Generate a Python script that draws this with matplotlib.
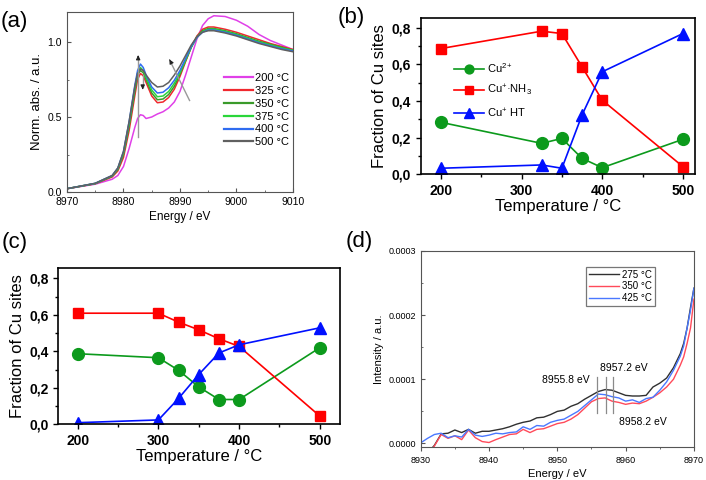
import numpy as np
import matplotlib
matplotlib.use('Agg')
import matplotlib.pyplot as plt
from matplotlib.ticker import MultipleLocator, FuncFormatter

plt.rcParams['font.family'] = ['Liberation Sans', 'DejaVu Sans']
plt.rcParams['mathtext.fontset'] = 'custom'
plt.rcParams['mathtext.rm'] = 'Liberation Sans'
plt.rcParams['mathtext.it'] = 'Liberation Sans:italic'
plt.rcParams['mathtext.bf'] = 'Liberation Sans:bold'

# ---- (a) XANES spectra
energy_a = [8970, 8975, 8978, 8979, 8980, 8981, 8982, 8982.5, 8983, 8983.5, 8984, 8985, 8986, 8987, 8988,
            8989, 8990, 8991, 8992, 8993, 8994, 8995, 8996, 8998, 9000, 9002, 9004, 9006, 9008, 9010]
abs_200 = [0.022, 0.052, 0.085, 0.11, 0.17, 0.29, 0.43, 0.49, 0.515, 0.51, 0.49, 0.50, 0.52, 0.535, 0.56,
           0.60, 0.67, 0.78, 0.90, 1.02, 1.11, 1.155, 1.175, 1.17, 1.145, 1.105, 1.05, 1.01, 0.98, 0.95]
abs_325 = [0.022, 0.055, 0.10, 0.14, 0.23, 0.41, 0.64, 0.75, 0.79, 0.775, 0.73, 0.64, 0.595, 0.60, 0.63,
           0.685, 0.77, 0.87, 0.965, 1.04, 1.085, 1.10, 1.10, 1.085, 1.065, 1.04, 1.015, 0.99, 0.97, 0.95]
abs_350 = [0.022, 0.056, 0.105, 0.15, 0.25, 0.44, 0.67, 0.78, 0.81, 0.795, 0.75, 0.66, 0.615, 0.62, 0.65,
           0.705, 0.785, 0.875, 0.965, 1.035, 1.075, 1.09, 1.09, 1.075, 1.055, 1.03, 1.005, 0.985, 0.965, 0.945]
abs_375 = [0.022, 0.057, 0.108, 0.155, 0.26, 0.455, 0.69, 0.795, 0.83, 0.81, 0.765, 0.68, 0.635, 0.64, 0.67,
           0.725, 0.795, 0.88, 0.965, 1.03, 1.07, 1.085, 1.085, 1.07, 1.05, 1.025, 1.0, 0.98, 0.96, 0.945]
abs_400 = [0.022, 0.058, 0.11, 0.16, 0.27, 0.47, 0.71, 0.81, 0.853, 0.83, 0.78, 0.70, 0.66, 0.665, 0.695,
           0.745, 0.81, 0.89, 0.97, 1.03, 1.065, 1.08, 1.08, 1.065, 1.045, 1.02, 0.995, 0.975, 0.955, 0.94]
abs_500 = [0.022, 0.058, 0.11, 0.16, 0.27, 0.47, 0.70, 0.79, 0.82, 0.81, 0.78, 0.73, 0.70, 0.705, 0.73,
           0.78, 0.84, 0.91, 0.98, 1.035, 1.065, 1.075, 1.075, 1.06, 1.04, 1.015, 0.99, 0.97, 0.95, 0.935]
labels_a = ['200 °C', '325 °C', '350 °C', '375 °C', '400 °C', '500 °C']
colors_a = ['#e040e8', '#f0282e', '#3a9a2a', '#2ad63a', '#2f6cf0', '#606060']

# ---- (b) fractions, in situ
temp_b = [200, 325, 350, 375, 400, 500]
cu2_b = [0.284, 0.169, 0.196, 0.087, 0.036, 0.191]
cunh3_b = [0.687, 0.782, 0.769, 0.587, 0.405, 0.042]
cuht_b = [0.033, 0.051, 0.033, 0.324, 0.560, 0.769]

# ---- (c) fractions, second series
temp_c = [200, 300, 325, 350, 375, 400, 500]
cu2_c = [0.387, 0.365, 0.296, 0.205, 0.136, 0.136, 0.420]
cunh3_c = [0.609, 0.609, 0.560, 0.518, 0.469, 0.427, 0.045]
cuht_c = [0.009, 0.024, 0.142, 0.273, 0.391, 0.436, 0.529]

# ---- (d) pre-edge spectra (intensity in 1e-4 a.u.)
energy_d = [8930, 8931, 8932, 8933, 8934, 8935, 8936, 8937, 8938, 8939, 8940, 8941, 8942, 8943, 8944,
            8945, 8946, 8947, 8948, 8949, 8950, 8951, 8952, 8953, 8954, 8955, 8956, 8957, 8958, 8959,
            8960, 8961, 8962, 8963, 8964, 8965, 8966, 8967, 8968, 8968.5, 8969, 8969.5, 8970]
int_275 = [-0.3, -0.15, -0.03, 0.15, 0.16, 0.21, 0.17, 0.22, 0.16, 0.19, 0.19, 0.21, 0.23, 0.26, 0.30,
           0.33, 0.35, 0.40, 0.41, 0.45, 0.50, 0.52, 0.58, 0.62, 0.69, 0.75, 0.81, 0.84, 0.83, 0.79,
           0.75, 0.74, 0.74, 0.75, 0.88, 0.94, 1.02, 1.18, 1.40, 1.56, 1.80, 2.12, 2.42]
int_350 = [-0.3, -0.2, -0.04, 0.14, 0.08, 0.12, 0.06, 0.21, 0.09, 0.03, 0.015, 0.06, 0.10, 0.14, 0.15,
           0.22, 0.17, 0.22, 0.23, 0.27, 0.31, 0.33, 0.38, 0.45, 0.55, 0.65, 0.70, 0.71, 0.66, 0.64,
           0.61, 0.63, 0.62, 0.66, 0.72, 0.79, 0.88, 1.00, 1.22, 1.35, 1.56, 1.80, 2.25]
int_425 = [0.01, 0.08, 0.14, 0.16, 0.09, 0.12, 0.10, 0.22, 0.13, 0.11, 0.13, 0.16, 0.15, 0.17, 0.18,
           0.26, 0.22, 0.28, 0.27, 0.33, 0.36, 0.38, 0.44, 0.50, 0.59, 0.68, 0.77, 0.76, 0.73, 0.71,
           0.66, 0.68, 0.64, 0.70, 0.72, 0.83, 0.96, 1.14, 1.36, 1.52, 1.80, 2.08, 2.42]
labels_d = ['275 °C', '350 °C', '425 °C']
colors_d = ['#303030', '#ff4a5a', '#4a78ff']
peaks_d = [8955.8, 8957.2, 8958.2]

fig = plt.figure(figsize=(7.06, 4.8), dpi=100)

# ================= (a)
ax = fig.add_axes([0.0949, 0.60, 0.320, 0.375])
for vals, lab, col in zip([abs_200, abs_325, abs_350, abs_375, abs_400, abs_500], labels_a, colors_a):
    ax.plot(energy_a, vals, color=col, lw=1.1, label=lab)
ax.set_xlim(8970, 9010)
ax.set_ylim(0, 1.2)
ax.xaxis.set_major_locator(MultipleLocator(10))
ax.xaxis.set_minor_locator(MultipleLocator(5))
ax.yaxis.set_major_locator(MultipleLocator(0.5))
ax.yaxis.set_minor_locator(MultipleLocator(0.25))
ax.yaxis.set_major_formatter(FuncFormatter(lambda v, p: f'{v:.1f}'))
ax.tick_params(which='both', direction='in', labelsize=7.5, color='#555555')
ax.tick_params(which='major', length=3)
ax.tick_params(which='minor', length=1.5)
for s in ax.spines.values():
    s.set_color('#555555')
    s.set_linewidth(0.8)
ax.set_xlabel('Energy / eV', fontsize=8.5, labelpad=3)
ax.set_ylabel('Norm. abs. / a.u.', fontsize=9.5, labelpad=3)
# arrows
ax.plot([8982.6, 8982.6], [0.37, 0.90], color='#999999', lw=1)
ax.annotate('', xy=(8982.6, 0.93), xytext=(8982.6, 0.88),
            arrowprops=dict(arrowstyle='-|>', color='#222222', lw=0.8, mutation_scale=6))
ax.plot([8983.4, 8983.4], [0.78, 0.70], color='#999999', lw=1)
ax.annotate('', xy=(8983.4, 0.665), xytext=(8983.4, 0.71),
            arrowprops=dict(arrowstyle='-|>', color='#222222', lw=0.8, mutation_scale=6))
ax.plot([8991.7, 8988.3], [0.61, 0.87], color='#999999', lw=1)
ax.annotate('', xy=(8987.9, 0.90), xytext=(8988.4, 0.865),
            arrowprops=dict(arrowstyle='-|>', color='#222222', lw=0.8, mutation_scale=6))
leg = ax.legend(loc='upper left', bbox_to_anchor=(0.67, 0.69), frameon=False, fontsize=8,
                handlelength=2.6, handletextpad=0.2, labelspacing=0.25, borderpad=0)
for h in leg.get_lines():
    h.set_linewidth(1.6)


def frac_axes(rect, temps, cu2, cunh3, cuht, with_legend):
    a = fig.add_axes(rect)
    a.plot(temps, cu2, color='#0c9a1c', marker='o', ms=8.5, lw=1.2, label=r'Cu$^{2+}$')
    a.plot(temps, cunh3, color='#ff0000', marker='s', ms=7.5, lw=1.2, label=r'Cu$^{+}$·NH$_3$')
    a.plot(temps, cuht, color='#0010ff', marker='^', ms=9, lw=1.2, label=r'Cu$^{+}$ HT')
    a.set_ylim(0, 0.855)
    a.xaxis.set_major_locator(MultipleLocator(100))
    a.xaxis.set_minor_locator(MultipleLocator(50))
    a.yaxis.set_major_locator(MultipleLocator(0.2))
    a.yaxis.set_minor_locator(MultipleLocator(0.1))
    a.yaxis.set_major_formatter(FuncFormatter(lambda v, p: f'{v:.1f}'.replace('.', ',')))
    a.tick_params(which='both', direction='out', labelsize=10, width=1.0)
    a.tick_params(which='major', length=3.5)
    a.tick_params(which='minor', length=2)
    for s in a.spines.values():
        s.set_linewidth(1.2)
    a.set_xlabel('Temperature / °C', fontsize=12, labelpad=1)
    a.set_ylabel('Fraction of Cu sites', fontsize=12, labelpad=3)
    if with_legend:
        a.legend(loc='upper left', bbox_to_anchor=(0.1, 0.76), frameon=False, fontsize=8,
                 handlelength=2.7, handletextpad=0.3, labelspacing=0.75, markerscale=0.75, borderpad=0)
    for t in a.get_xticklabels() + a.get_yticklabels():
        t.set_fontweight('bold')
    return a


# ================= (b)
axb = frac_axes([0.5959, 0.6369, 0.3885, 0.326], temp_b, cu2_b, cunh3_b, cuht_b, True)
axb.set_xlim(175, 515)

# ================= (c)
axc = frac_axes([0.0826, 0.116, 0.399, 0.325], temp_c, cu2_c, cunh3_c, cuht_c, False)
axc.set_xlim(176, 525)

# ================= (d)
axd = fig.add_axes([0.5959, 0.0694, 0.387, 0.4077])
for vals, lab, col in zip([int_275, int_350, int_425], labels_d, colors_d):
    axd.plot(energy_d, np.array(vals) * 1e-4, color=col, lw=1.0, label=lab)
for p in peaks_d:
    axd.plot([p, p], [0.48e-4, 1.03e-4], color='#8a8a8a', lw=0.9)
axd.text(8954.7, 0.99e-4, '8955.8 eV', fontsize=7.5, ha='right', va='center')
axd.text(8956.3, 1.18e-4, '8957.2 eV', fontsize=7.5, ha='left', va='center')
axd.text(8959.0, 0.34e-4, '8958.2 eV', fontsize=7.5, ha='left', va='center')
axd.set_xlim(8930, 8970)
axd.set_ylim(-0.05e-4, 3e-4)
axd.xaxis.set_major_locator(MultipleLocator(10))
axd.xaxis.set_minor_locator(MultipleLocator(5))
axd.yaxis.set_major_locator(MultipleLocator(1e-4))
axd.yaxis.set_minor_locator(MultipleLocator(0.5e-4))
axd.yaxis.set_major_formatter(FuncFormatter(lambda v, p: f'{v:.4f}'))
axd.tick_params(axis='y', which='both', direction='in')
axd.tick_params(axis='x', which='both', direction='out')
axd.tick_params(which='both', labelsize=6.5, color='#555555')
axd.tick_params(which='major', length=3)
axd.tick_params(which='minor', length=1.5)
for s in axd.spines.values():
    s.set_color('#555555')
    s.set_linewidth(0.8)
axd.set_xlabel('Energy / eV', fontsize=8, labelpad=3)
axd.set_ylabel('Intensity / a.u.', fontsize=8, labelpad=3)
legd = axd.legend(loc='upper left', bbox_to_anchor=(0.589, 0.945), fontsize=7, fancybox=False,
                  edgecolor='#777777', framealpha=1, handlelength=3.0, handletextpad=0.4,
                  labelspacing=0.2, borderpad=0.3)
legd.get_frame().set_linewidth(0.9)

# panel letters
fig.text(0.020, 0.955, '(a)', fontsize=16, ha='center', va='center')
fig.text(0.498, 0.964, '(b)', fontsize=16, ha='center', va='center')
fig.text(0.021, 0.495, '(c)', fontsize=16, ha='center', va='center')
fig.text(0.509, 0.497, '(d)', fontsize=16, ha='center', va='center')

fig.savefig('out.png', dpi=100)
